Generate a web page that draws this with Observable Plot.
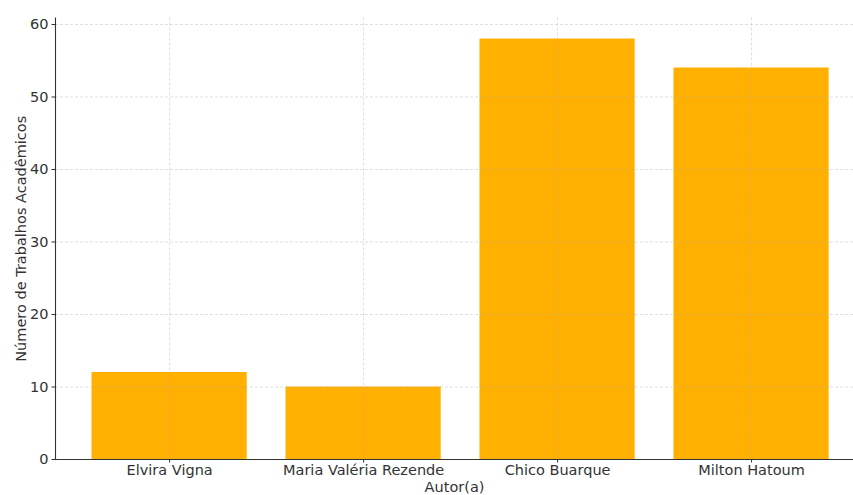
<!DOCTYPE html>
<html>
<head>
<meta charset="utf-8">
<script src="https://cdn.jsdelivr.net/npm/d3@7"></script>
<script src="https://cdn.jsdelivr.net/npm/@observablehq/plot@0.6"></script>
<style>
  html, body { margin: 0; padding: 0; background: #fff; }
  #chart svg { display: block; font-family: "DejaVu Sans", sans-serif; }
  #chart svg text { font-size: 14.5px !important; font-family: "DejaVu Sans", sans-serif; }
</style>
</head>
<body>
<div id="chart"></div>
<script>
const authors = ["Elvira Vigna", "Maria Valéria Rezende", "Chico Buarque", "Milton Hatoum"];
const works = [12, 10, 58, 54];
const yTicks = [0, 10, 20, 30, 40, 50, 60];

const data = authors.map((a, i) => ({author: a, value: works[i]}));

const textColor = "#333333";
const chart = Plot.plot({
  width: 853,
  height: 495,
  marginLeft: 55,
  marginRight: 0,
  marginTop: 17.5,
  marginBottom: 36,
  style: {fontFamily: "DejaVu Sans, sans-serif", fontSize: "14.5px", color: textColor, background: "#fff"},
  x: {domain: authors, paddingInner: 0.2, paddingOuter: 0.157, align: 0.6, round: false},
  y: {domain: [0, 60.9]},
  marks: [
    Plot.barY(data, {x: "author", y: "value", fill: "#FFB000"}),
    Plot.gridY(yTicks, {stroke: "#b0b0b0", strokeOpacity: 0.5, strokeDasharray: "3,2", strokeWidth: 0.8}),
    Plot.gridX(authors, {stroke: "#b0b0b0", strokeOpacity: 0.5, strokeDasharray: "3,2", strokeWidth: 0.8}),
    Plot.axisY(yTicks, {
      tickSize: 3.5, tickPadding: 3.5, stroke: textColor, fill: textColor,
      label: "Número de Trabalhos Acadêmicos", labelAnchor: "center", labelArrow: "none", labelOffset: 40
    }),
    Plot.axisX(authors, {
      tickSize: 3.5, tickPadding: 2, stroke: textColor, fill: textColor,
      label: "Autor(a)", labelAnchor: "center", labelArrow: "none", labelOffset: 32
    }),
    Plot.frame({anchor: "left", stroke: textColor, strokeWidth: 1.1}),
    Plot.ruleY([0], {stroke: textColor, strokeWidth: 1.1})
  ]
});
document.getElementById("chart").appendChild(chart);
</script>
</body>
</html>
